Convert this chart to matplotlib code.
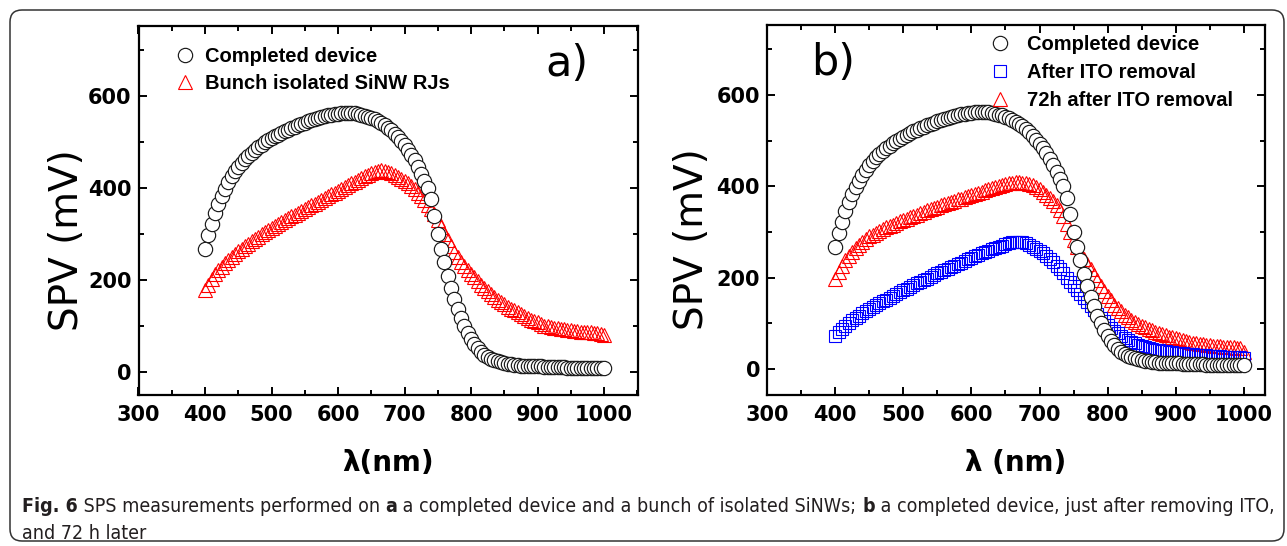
import matplotlib
matplotlib.use("Agg")
import matplotlib.pyplot as plt
from matplotlib.patches import FancyBboxPatch
from matplotlib.ticker import MultipleLocator

# ---------------- data ----------------
wavelength = list(range(400, 1001, 5))  # nm, measurement grid

completed_device = [
    268, 298, 322, 345, 365, 382, 398, 412, 425, 436,
    446, 455, 463, 470, 477, 483, 489, 494, 499, 504,
    508, 512, 516, 520, 523, 527, 530, 533, 536, 539,
    542, 545, 547, 550, 552, 554, 556, 558, 559, 560,
    561, 562, 562, 563, 562, 562, 561, 559, 557, 555,
    552, 549, 545, 541, 536, 531, 525, 518, 510, 502,
    493, 483, 472, 460, 446, 431, 415, 400, 375, 340,
    300, 268, 238, 208, 182, 158, 137, 117, 100, 85,
    72, 61, 52, 44, 38, 33, 29, 26, 23, 21,
    19, 18, 17, 16, 15, 14, 14, 13, 13, 12,
    12, 12, 11, 11, 11, 10, 10, 10, 10, 9,
    9, 9, 9, 9, 8, 8, 8, 8, 8, 8,
    8,
]

bunch_isolated = [
    178, 190, 202, 212, 221, 229, 236, 243, 250, 256,
    262, 268, 274, 279, 284, 289, 294, 299, 304, 309,
    314, 318, 322, 326, 330, 334, 338, 342, 346, 350,
    354, 358, 362, 366, 370, 374, 378, 382, 386, 390,
    394, 398, 402, 406, 410, 414, 418, 422, 426, 429,
    432, 435, 437, 438, 437, 435, 432, 428, 424, 420,
    415, 410, 404, 397, 390, 382, 373, 364, 354, 343,
    330, 316, 300, 286, 273, 261, 250, 240, 231, 222,
    214, 206, 198, 190, 183, 176, 169, 163, 157, 152,
    147, 142, 138, 134, 130, 126, 122, 118, 114, 111,
    108, 104, 101, 99, 97, 96, 95, 94, 93, 92,
    91, 90, 89, 88, 88, 87, 86, 85, 84, 82,
    80,
]

after_ito = [
    72, 80, 88, 95, 101, 107, 112, 117, 122, 127,
    132, 136, 140, 144, 148, 152, 156, 160, 164, 168,
    172, 176, 180, 184, 188, 191, 195, 198, 202, 205,
    209, 212, 216, 219, 223, 226, 230, 233, 237, 240,
    244, 247, 250, 253, 256, 259, 262, 265, 268, 270,
    273, 275, 277, 278, 278, 277, 275, 272, 268, 263,
    258, 253, 247, 241, 234, 226, 218, 209, 200, 191,
    182, 173, 164, 155, 146, 137, 128, 120, 112, 104,
    97, 90, 84, 78, 73, 68, 63, 59, 56, 53,
    50, 48, 46, 44, 42, 41, 40, 39, 38, 37,
    36, 35, 34, 33, 33, 32, 31, 31, 30, 30,
    29, 29, 28, 28, 27, 27, 27, 26, 26, 26,
    25,
]

after_ito_72h = [
    196, 212, 226, 238, 248, 257, 264, 271, 278, 284,
    290, 294, 298, 302, 306, 310, 313, 316, 320, 323,
    326, 329, 332, 335, 338, 341, 344, 347, 350, 352,
    355, 358, 361, 363, 366, 368, 371, 373, 376, 378,
    381, 383, 386, 388, 391, 393, 396, 398, 400, 403,
    405, 407, 408, 409, 409, 408, 407, 405, 402, 398,
    393, 387, 381, 374, 367, 358, 348, 334, 318, 300,
    282, 266, 253, 241, 230, 218, 206, 194, 182, 171,
    160, 150, 141, 133, 126, 119, 113, 108, 103, 99,
    95, 91, 88, 85, 82, 79, 76, 74, 71, 69,
    67, 65, 63, 61, 59, 57, 56, 55, 54, 53,
    52, 51, 50, 50, 49, 48, 47, 47, 46, 45,
    38,
]

labels_a = ["Completed device", "Bunch isolated SiNW RJs"]
labels_b = ["Completed device", "After ITO removal", "72h after ITO removal"]
x_ticks = [300, 400, 500, 600, 700, 800, 900, 1000]
y_ticks = [0, 200, 400, 600]

# ---------------- figure ----------------
W, H = 1287, 546
fig = plt.figure(figsize=(W / 100, H / 100), dpi=100)

# rounded frame around figure + caption
frame = FancyBboxPatch((0.10, 0.05), 12.74, 5.31,
                       boxstyle="round,pad=0,rounding_size=0.12",
                       transform=fig.dpi_scale_trans, fill=False,
                       edgecolor="#333333", linewidth=1.1)
fig.patches.append(frame)


def rect(l, t, r, b):
    return [l / W, 1 - b / H, (r - l) / W, (b - t) / H]


axa = fig.add_axes(rect(138.5, 26, 638, 395))
axb = fig.add_axes(rect(767, 25, 1265, 395))

circ_kw = dict(ls="none", marker="o", ms=10.3, mfc="white", mec="#1a1a1a", mew=0.85, zorder=4)
tri_kw = dict(ls="none", marker="^", ms=10.5, mfc="none", mec="#ff0000", mew=0.8, zorder=3)
sq_kw = dict(ls="none", marker="s", ms=8.8, mfc="none", mec="#0000ff", mew=0.8, zorder=3)


def style(ax, ylim, xlim):
    ax.set_xlim(*xlim)
    ax.set_ylim(*ylim)
    ax.set_xticks(x_ticks)
    ax.set_yticks(y_ticks)
    ax.xaxis.set_minor_locator(MultipleLocator(50))
    ax.yaxis.set_minor_locator(MultipleLocator(100))
    ax.tick_params(which="both", direction="in", top=True, right=True, width=1.4)
    ax.tick_params(which="major", length=6)
    ax.tick_params(which="minor", length=3.5)
    ax.tick_params(axis="x", which="major", pad=7)
    ax.tick_params(axis="y", which="major", pad=5)
    for sp in ax.spines.values():
        sp.set_linewidth(1.6)
    for lab in ax.get_xticklabels() + ax.get_yticklabels():
        lab.set_fontfamily("DejaVu Sans")
        lab.set_fontweight("bold")
        lab.set_fontsize(15)
    ax.set_ylabel("SPV (mV)", family="DejaVu Sans", fontsize=28)


# ---- panel a ----
la1, = axa.plot(wavelength, bunch_isolated, **tri_kw)
la0, = axa.plot(wavelength, completed_device, **circ_kw)
style(axa, (-50, 752), (300, 1051))
axa.yaxis.set_label_coords(-0.105, 0.42)
axa.set_xlabel("λ(nm)", family="DejaVu Sans", weight="bold", fontsize=20)
axa.xaxis.set_label_coords(0.5, -0.145)
axa.text(0.858, 0.897, "a)", transform=axa.transAxes, ha="center", va="center",
         family="DejaVu Sans", fontsize=31)
axa.legend([la0, la1], labels_a, loc="upper left", bbox_to_anchor=(0.073, 0.944),
           frameon=False, numpoints=1, handlelength=1.0, handletextpad=0.5,
           borderpad=0, borderaxespad=0, labelspacing=0.4,
           prop=dict(family="Liberation Sans", weight="bold", size=14.5))

# ---- panel b ----
lb2, = axb.plot(wavelength, after_ito_72h, **tri_kw)
lb1, = axb.plot(wavelength, after_ito, **sq_kw)
lb0, = axb.plot(wavelength, completed_device, **circ_kw)
style(axb, (-57, 753), (300, 1031))
axb.yaxis.set_label_coords(-0.112, 0.42)
axb.set_xlabel("λ (nm)", family="DejaVu Sans", weight="bold", fontsize=20)
axb.xaxis.set_label_coords(0.5, -0.145)
axb.text(0.133, 0.897, "b)", transform=axb.transAxes, ha="center", va="center",
         family="DejaVu Sans", fontsize=31)
axb.legend([lb0, lb1, lb2], labels_b, loc="upper left", bbox_to_anchor=(0.448, 0.974),
           frameon=False, numpoints=1, handlelength=1.0, handletextpad=0.85,
           borderpad=0, borderaxespad=0, labelspacing=0.45,
           prop=dict(family="Liberation Sans", weight="bold", size=14.5))

# ---------------- caption ----------------
cap_family = ["DejaVu Sans"]
cap_stretch = "condensed"
cap_color = "#231f20"
line1 = [("Fig. 6", "bold"), (" SPS measurements performed on ", "normal"), ("a", "bold"),
         (" a completed device and a bunch of isolated SiNWs; ", "normal"), ("b", "bold"),
         (" a completed device, just after removing ITO,", "normal")]
line2 = [("and 72 h later", "normal")]

renderer = fig.canvas.get_renderer()


def text_width(s, weight, size):
    t = fig.text(0, 0, s.replace(" ", "\u00a0"), family=cap_family, weight=weight,
                 stretch=cap_stretch, fontsize=size)
    w = t.get_window_extent(renderer).width
    t.remove()
    return w


target = 1272 - 22
size0 = 12
w0 = sum(text_width(s, wt, size0) for s, wt in line1)
cap_size = size0 * target / w0


def draw_line(segs, x0, ybase):
    x = x0
    for s, wt in segs:
        fig.text(x / W, 1 - ybase / H, s.replace(" ", "\u00a0"), family=cap_family, weight=wt,
                 stretch=cap_stretch, fontsize=cap_size, color=cap_color,
                 ha="left", va="baseline")
        x += text_width(s, wt, cap_size)


draw_line(line1, 22, 512)
draw_line(line2, 22, 539)

fig.savefig("out.png", dpi=100)
